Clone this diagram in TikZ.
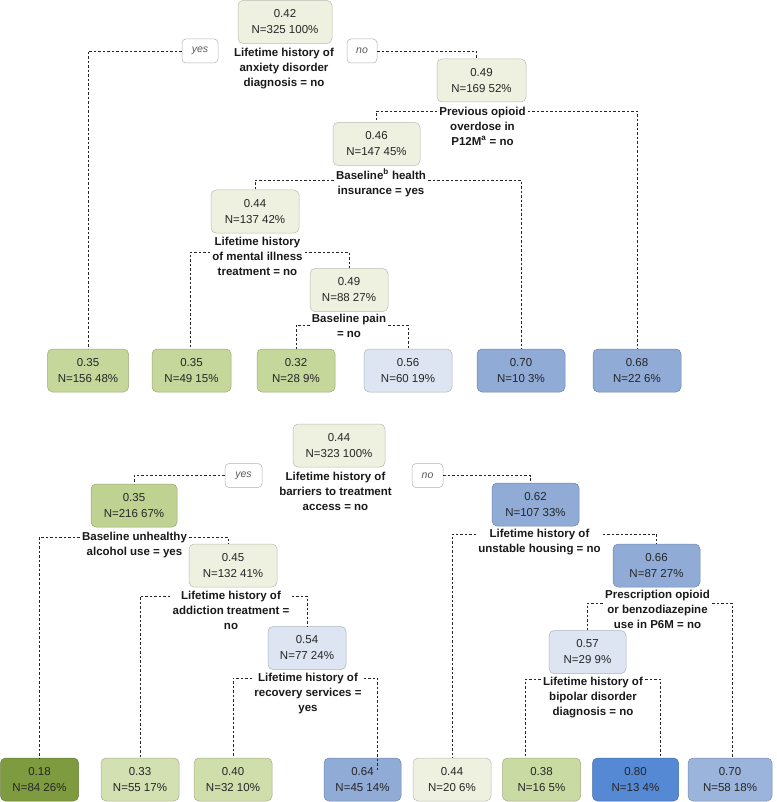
\documentclass[tikz,border=0pt]{standalone}
\usepackage{fontspec}
\setmainfont{Liberation Sans}
\definecolor{beige}{HTML}{EEF0E0}
\definecolor{gA}{HTML}{C5D79B}
\definecolor{gB}{HTML}{BFD292}
\definecolor{gC}{HTML}{D3E0B1}
\definecolor{gD}{HTML}{D0DEAB}
\definecolor{gE}{HTML}{CADAA3}
\definecolor{gdark}{HTML}{7F9B40}
\definecolor{blight}{HTML}{DDE5F2}
\definecolor{bmid}{HTML}{8FABD6}
\definecolor{bsoft}{HTML}{9BB4DC}
\definecolor{bstrong}{HTML}{5589D4}
\begin{document}
\begin{tikzpicture}[x=1pt,y=-1pt,
  tn/.style={rounded corners=5pt, draw=#1!78!black, fill=#1, line width=0.5pt,
    align=center, font=\fontsize{11.5}{16}\selectfont, text=black!85,
    minimum height=43, inner sep=0pt},
  lab/.style={font=\bfseries\fontsize{11.5}{15}\selectfont, align=center,
    inner sep=2pt, text=black!90, anchor=north},
  yn/.style={draw=black!30, fill=white, rounded corners=4pt, line width=0.5pt,
    font=\itshape\fontsize{10.5}{12}\selectfont, text=black!65,
    minimum height=24, inner xsep=0pt, inner ysep=0pt},
  conn/.style={dash pattern=on 2.5pt off 2pt, line width=0.7pt, black!85}]
\useasboundingbox (0,0) rectangle (776,802);

% ---------- top tree ----------
\node[tn=beige, minimum width=94] (R) at (285,22) {0.42\\N=325 100\%};
\node[lab] (L0) at (284,45.7) {Lifetime history of\\anxiety disorder\\diagnosis = no};
\node[yn, minimum width=36] (yes1) at (200,51) {yes};
\node[yn, minimum width=30] (no1) at (362,51) {no};

\node[tn=beige, minimum width=89] (A) at (481.5,80.5) {0.49\\N=169 52\%};
\node[lab] (L1) at (482.5,104.7) {Previous opioid\\overdose in\\P12M\textsuperscript{a} = no};

\node[tn=beige, minimum width=87] (B) at (376.5,144) {0.46\\N=147 45\%};
\node[lab] (L2) at (381,166.7) {Baseline\textsuperscript{b} health\\insurance = yes};

\node[tn=beige, minimum width=88] (C) at (255,211.5) {0.44\\N=137 42\%};
\node[lab] (L3) at (257.5,234.7) {Lifetime history\\of mental illness\\treatment = no};

\node[tn=beige, minimum width=78] (D) at (349,290) {0.49\\N=88 27\%};
\node[lab] (L4) at (349,311.7) {Baseline pain\\= no};

\node[tn=gA, minimum width=81] (P1) at (88,370.5) {0.35\\N=156 48\%};
\node[tn=gA, minimum width=79] (P2) at (191.5,370.5) {0.35\\N=49 15\%};
\node[tn=gA, minimum width=78] (P3) at (296,370.5) {0.32\\N=28 9\%};
\node[tn=blight, minimum width=88] (P4) at (408,370.5) {0.56\\N=60 19\%};
\node[tn=bmid, minimum width=88] (P5) at (521,370.5) {0.70\\N=10 3\%};
\node[tn=bmid, minimum width=88] (P6) at (637,370.5) {0.68\\N=22 6\%};

% ---------- bottom tree ----------
\node[tn=beige, minimum width=92] (S) at (339,445.5) {0.44\\N=323 100\%};
\node[lab] (M0) at (335.5,469.7) {Lifetime history of\\barriers to treatment\\access = no};
\node[yn, minimum width=37] (yes2) at (243.5,475.5) {yes};
\node[yn, minimum width=31] (no2) at (427.5,475.5) {no};

\node[tn=gB, minimum width=86] (U) at (134,505.5) {0.35\\N=216 67\%};
\node[lab] (M1) at (134.5,529.7) {Baseline unhealthy\\alcohol use = yes};

\node[tn=beige, minimum width=88] (V) at (233,565.5) {0.45\\N=132 41\%};
\node[lab] (M2) at (231,588.7) {Lifetime history of\\addiction treatment =\\no};

\node[tn=blight, minimum width=78] (W) at (307,648) {0.54\\N=77 24\%};
\node[lab] (M3) at (308,670.7) {Lifetime history of\\recovery services =\\yes};

\node[tn=bmid, minimum width=87] (T) at (535.5,504.5) {0.62\\N=107 33\%};
\node[lab] (M4) at (539.5,526.7) {Lifetime history of\\unstable housing = no};

\node[tn=bmid, minimum width=87] (X) at (656.5,565.5) {0.66\\N=87 27\%};
\node[lab] (M5) at (657.5,587.7) {Prescription opioid\\or benzodiazepine\\use in P6M = no};

\node[tn=blight, minimum width=77] (Y) at (587.5,652) {0.57\\N=29 9\%};
\node[lab] (M6) at (593,674.7) {Lifetime history of\\bipolar disorder\\diagnosis = no};

\node[tn=gdark, minimum width=78] (Q1) at (39.5,779.5) {0.18\\N=84 26\%};
\node[tn=gC, minimum width=78] (Q2) at (140,779.5) {0.33\\N=55 17\%};
\node[tn=gD, minimum width=78] (Q3) at (233,779.5) {0.40\\N=32 10\%};
\node[tn=bmid, minimum width=77] (Q4) at (362.5,779.5) {0.64\\N=45 14\%};
\node[tn=beige, minimum width=78] (Q5) at (452,779.5) {0.44\\N=20 6\%};
\node[tn=gE, minimum width=78] (Q6) at (541.5,779.5) {0.38\\N=16 5\%};
\node[tn=bstrong, minimum width=86] (Q7) at (635.5,779.5) {0.80\\N=13 4\%};
\node[tn=bsoft, minimum width=84] (Q8) at (730,779.5) {0.70\\N=58 18\%};

% ---------- connectors ----------
\draw[conn] (yes1.west) -| (P1.north);
\draw[conn] (no1.east) -| ([xshift=-5pt]A.north);
\draw[conn] (L1.west |- 0,111) -| (B.north);
\draw[conn] (L1.east |- 0,111) -| (P6.north);
\draw[conn] (L2.west |- 0,180) -| (C.north);
\draw[conn] (L2.east |- 0,180) -| (P5.north);
\draw[conn] (L3.west |- 0,252) -| ([xshift=-1pt]P2.north);
\draw[conn] (L3.east |- 0,252) -| (D.north);
\draw[conn] (L4.west |- 0,325) -| (P3.north);
\draw[conn] (L4.east |- 0,325) -| (P4.north);

\draw[conn] (yes2.west) -| (U.north);
\draw[conn] (no2.east) -| ([xshift=-5pt]T.north);
\draw[conn] (M1.west |- 0,537) -| (Q1.north);
\draw[conn] (M1.east |- 0,537) -| ([xshift=-5pt]V.north);
\draw[conn] (M2.west |- 0,596) -| (Q2.north);
\draw[conn] (M2.east |- 0,596) -| (W.north);
\draw[conn] (M3.west |- 0,678) -| (Q3.north);
\draw[conn] (M3.east |- 0,678) -| ([xshift=15pt,yshift=-14pt]Q4.north);
\draw[conn] (M4.west |- 0,534) -| (Q5.north);
\draw[conn] (M4.east |- 0,534) -| (X.north);
\draw[conn] (M5.west |- 0,603) -| (Y.north);
\draw[conn] (M5.east |- 0,603) -| ([xshift=2pt]Q8.north);
\draw[conn] (M6.west |- 0,679) -| ([xshift=-16pt]Q6.north);
\draw[conn] (M6.east |- 0,679) -| ([xshift=25pt]Q7.north);
\end{tikzpicture}
\end{document}
